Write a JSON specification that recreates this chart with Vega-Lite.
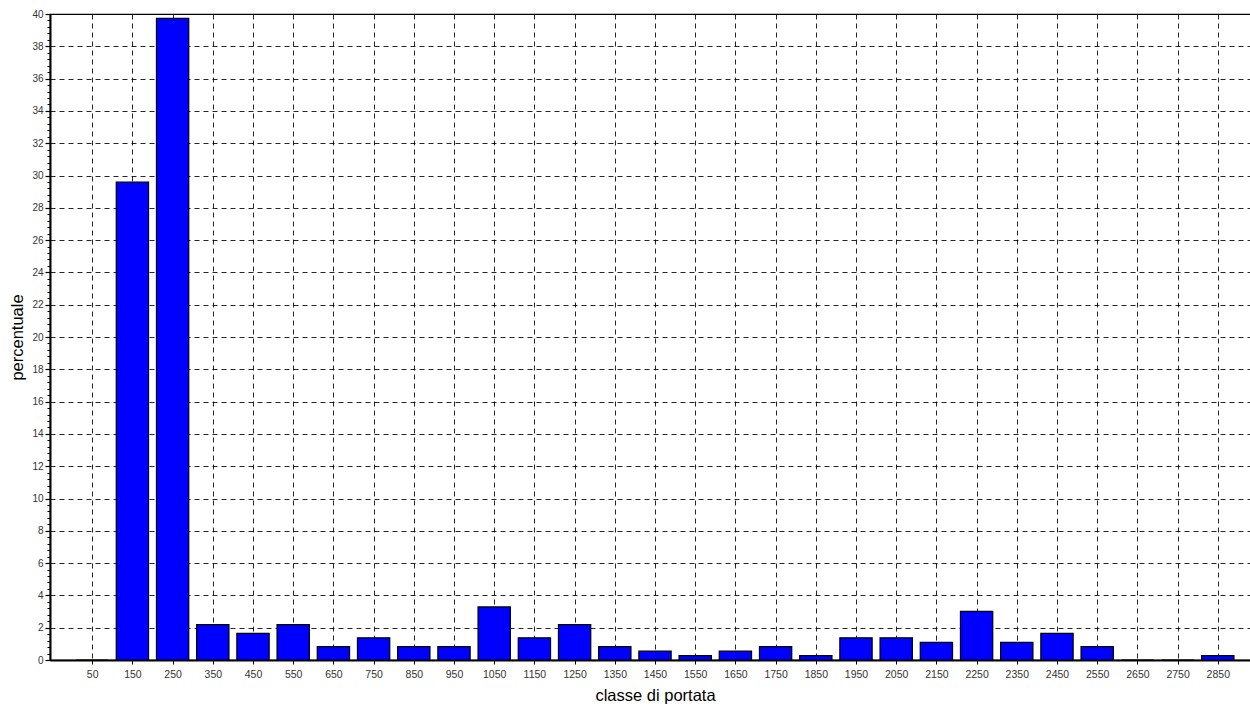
{
  "$schema": "https://vega.github.io/schema/vega-lite/v6.json",
  "autosize": "none",
  "padding": {"left": 50, "top": 14, "right": 0, "bottom": 46},
  "width": 1210,
  "height": 646,
  "background": "white",
  "config": {
    "font": "Liberation Sans",
    "view": {"stroke": "#000", "strokeWidth": 1.2}
  },
  "data": {
    "values": [
      {"classe": 50, "pct": 0},
      {"classe": 150, "pct": 29.589},
      {"classe": 250, "pct": 39.726},
      {"classe": 350, "pct": 2.192},
      {"classe": 450, "pct": 1.644},
      {"classe": 550, "pct": 2.192},
      {"classe": 650, "pct": 0.822},
      {"classe": 750, "pct": 1.370},
      {"classe": 850, "pct": 0.822},
      {"classe": 950, "pct": 0.822},
      {"classe": 1050, "pct": 3.288},
      {"classe": 1150, "pct": 1.370},
      {"classe": 1250, "pct": 2.192},
      {"classe": 1350, "pct": 0.822},
      {"classe": 1450, "pct": 0.548},
      {"classe": 1550, "pct": 0.274},
      {"classe": 1650, "pct": 0.548},
      {"classe": 1750, "pct": 0.822},
      {"classe": 1850, "pct": 0.274},
      {"classe": 1950, "pct": 1.370},
      {"classe": 2050, "pct": 1.370},
      {"classe": 2150, "pct": 1.096},
      {"classe": 2250, "pct": 3.014},
      {"classe": 2350, "pct": 1.096},
      {"classe": 2450, "pct": 1.644},
      {"classe": 2550, "pct": 0.822},
      {"classe": 2650, "pct": 0},
      {"classe": 2750, "pct": 0},
      {"classe": 2850, "pct": 0.274}
    ]
  },
  "layer": [
    {
      "mark": {"type": "bar", "width": 32.3, "color": "#0000ff", "stroke": "#000", "strokeWidth": 1.2},
      "encoding": {
        "x": {
          "field": "classe", "type": "quantitative",
          "scale": {"domain": [-55, 2955], "nice": false, "zero": false, "padding": 0},
          "axis": {
            "values": [50,150,250,350,450,550,650,750,850,950,1050,1150,1250,1350,1450,1550,1650,1750,1850,1950,2050,2150,2250,2350,2450,2550,2650,2750,2850],
            "format": "d",
            "title": "classe di portata",
            "titleFont": "Liberation Sans", "titleFontSize": 16.5, "titleFontWeight": "normal", "titleColor": "#000", "titlePadding": 8,
            "labelFont": "Liberation Sans", "labelFontSize": 10.5, "labelColor": "#333", "labelPadding": 5,
            "tickSize": 4, "tickColor": "#000", "tickWidth": 1,
            "domainColor": "#000", "domainWidth": 2,
            "grid": true, "gridColor": "#000", "gridDash": [5, 4], "gridWidth": 1, "gridOpacity": 0.85,
            "labelFlush": false, "labelOverlap": false
          }
        },
        "y": {
          "field": "pct", "type": "quantitative",
          "scale": {"domain": [0, 40], "nice": false},
          "axis": {
            "values": [0,2,4,6,8,10,12,14,16,18,20,22,24,26,28,30,32,34,36,38,40],
            "title": "percentuale",
            "titleFont": "Liberation Sans", "titleFontSize": 16.5, "titleFontWeight": "normal", "titleColor": "#000", "titlePadding": 6,
            "labelFont": "Liberation Sans", "labelFontSize": 10, "labelColor": "#333", "labelPadding": 2,
            "tickSize": 5, "tickColor": "#000", "tickWidth": 1.2,
            "domainColor": "#000", "domainWidth": 2,
            "grid": true, "gridColor": "#000", "gridDash": [5, 4], "gridWidth": 1, "gridOpacity": 0.85,
            "labelFlush": false, "labelOverlap": false
          }
        }
      }
    },
    {
      "mark": {"type": "point", "opacity": 0},
      "encoding": {
        "y": {
          "field": "pct", "type": "quantitative",
          "axis": {
            "orient": "left",
            "values": [0.4,0.8,1.2,1.6,2.4,2.8,3.2,3.6,4.4,4.8,5.2,5.6,6.4,6.8,7.2,7.6,8.4,8.8,9.2,9.6,10.4,10.8,11.2,11.6,12.4,12.8,13.2,13.6,14.4,14.8,15.2,15.6,16.4,16.8,17.2,17.6,18.4,18.8,19.2,19.6,20.4,20.8,21.2,21.6,22.4,22.8,23.2,23.6,24.4,24.8,25.2,25.6,26.4,26.8,27.2,27.6,28.4,28.8,29.2,29.6,30.4,30.8,31.2,31.6,32.4,32.8,33.2,33.6,34.4,34.8,35.2,35.6,36.4,36.8,37.2,37.6,38.4,38.8,39.2,39.6],
            "labels": false, "title": null, "grid": false, "domain": false,
            "tickSize": 3, "tickColor": "#000", "tickWidth": 1
          }
        }
      }
    }
  ],
  "resolve": {"axis": {"y": "independent"}}
}
